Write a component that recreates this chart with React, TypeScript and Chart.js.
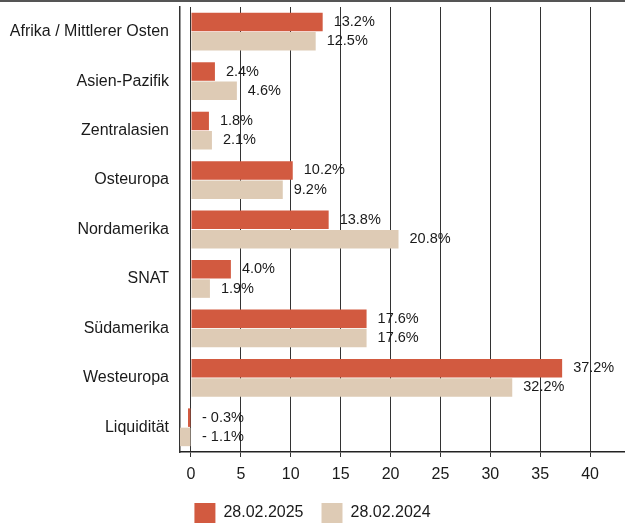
import React, { useEffect, useRef } from 'react';
import { Chart, registerables } from 'chart.js';

Chart.register(...registerables);

const categories = [
  'Afrika / Mittlerer Osten',
  'Asien-Pazifik',
  'Zentralasien',
  'Osteuropa',
  'Nordamerika',
  'SNAT',
  'Südamerika',
  'Westeuropa',
  'Liquidität',
];
const series2025 = [13.2, 2.4, 1.8, 10.2, 13.8, 4.0, 17.6, 37.2, -0.3];
const series2024 = [12.5, 4.6, 2.1, 9.2, 20.8, 1.9, 17.6, 32.2, -1.1];
const seriesLabels = ['28.02.2025', '28.02.2024'];
const xTickValues = [0, 5, 10, 15, 20, 25, 30, 35, 40];

const FONT = '"Liberation Sans", Arial, Helvetica, sans-serif';
const TEXT = '#1a1a1a';

const valueLabelPlugin = {
  id: 'valueLabels',
  afterDatasetsDraw(chart: any) {
    const ctx = chart.ctx;
    const xs = chart.scales.x;
    chart.data.datasets.forEach((ds: any, di: number) => {
      const meta = chart.getDatasetMeta(di);
      meta.data.forEach((bar: any, i: number) => {
        const v = ds.data[i] as number;
        const txt = v < 0 ? '- ' + Math.abs(v).toFixed(1) + '%' : v.toFixed(1) + '%';
        const px = xs.getPixelForValue(Math.max(v, 0)) + 11;
        ctx.save();
        ctx.font = '14.5px ' + FONT;
        ctx.fillStyle = TEXT;
        ctx.textAlign = 'left';
        ctx.textBaseline = 'middle';
        ctx.fillText(txt, px, bar.y);
        ctx.restore();
      });
    });
  },
};

export default function App() {
  const ref = useRef<HTMLCanvasElement | null>(null);

  useEffect(() => {
    if (!ref.current) return;
    const chart = new Chart(ref.current, {
      type: 'bar',
      data: {
        labels: categories,
        datasets: [
          {
            label: seriesLabels[0],
            data: series2025,
            backgroundColor: '#D25A40',
            categoryPercentage: 0.78,
            barPercentage: 0.96,
          },
          {
            label: seriesLabels[1],
            data: series2024,
            backgroundColor: '#DECBB5',
            categoryPercentage: 0.78,
            barPercentage: 0.96,
          },
        ],
      },
      options: {
        indexAxis: 'y',
        responsive: false,
        animation: false,
        devicePixelRatio: 1,
        layout: { padding: { top: 7, left: 0, right: 0, bottom: 0 } },
        plugins: {
          tooltip: { enabled: false },
          legend: {
            position: 'bottom',
            labels: {
              boxWidth: 21,
              boxHeight: 20,
              padding: 18,
              color: TEXT,
              font: { family: FONT, size: 16 },
            },
          },
        },
        scales: {
          x: {
            type: 'linear',
            min: -1.1,
            max: 43.5,
            afterBuildTicks: (scale: any) => {
              scale.ticks = xTickValues.map((v) => ({ value: v }));
            },
            afterFit: (scale: any) => {
              scale.height = 33;
              scale.paddingLeft = 0;
              scale.paddingRight = 0;
            },
            grid: {
              color: '#333',
              lineWidth: 1,
              drawTicks: true,
              tickLength: 5,
              tickColor: '#333',
            },
            border: { display: true, color: '#222', width: 1.5 },
            ticks: {
              color: TEXT,
              padding: 8,
              font: { family: FONT, size: 16 },
              callback: (v: any) => String(v),
            },
          },
          y: {
            type: 'category',
            afterFit: (scale: any) => {
              scale.width = 180;
              scale.paddingTop = 0;
              scale.paddingBottom = 0;
            },
            grid: { display: false, drawTicks: false },
            border: { display: true, color: '#333', width: 1.5 },
            ticks: {
              color: TEXT,
              padding: 11,
              font: { family: FONT, size: 16 },
            },
          },
        },
      },
      plugins: [valueLabelPlugin],
    } as any);
    return () => chart.destroy();
  }, []);

  return (
    <div
      style={{
        position: 'absolute',
        left: 0,
        top: 0,
        width: 625,
        height: 523,
        overflow: 'hidden',
        background: '#fff',
      }}
    >
      <canvas ref={ref} width={625} height={533} style={{ display: 'block' }} />
      <div
        style={{
          position: 'absolute',
          left: 0,
          top: 0,
          width: 625,
          height: 2,
          background: '#555',
        }}
      />
    </div>
  );
}
